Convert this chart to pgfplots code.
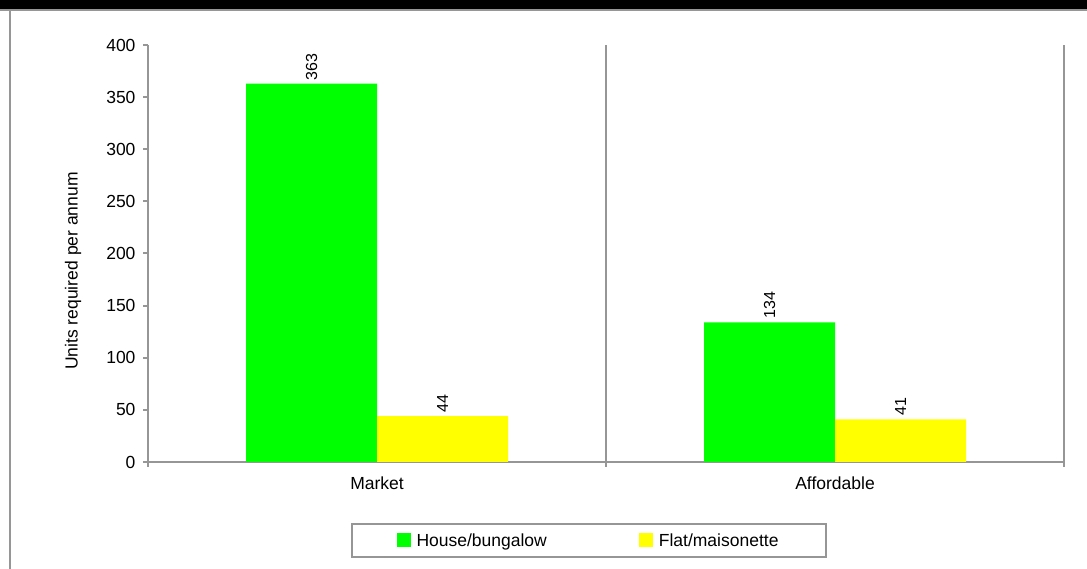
\documentclass[border=0pt]{standalone}
\usepackage{pgfplots}
\pgfplotsset{compat=1.18}
\usepackage{fontspec}
\setmainfont{Liberation Sans}
\definecolor{axgray}{RGB}{150,150,150}
\definecolor{bargreen}{RGB}{0,255,0}
\definecolor{baryellow}{RGB}{255,255,0}
\begin{document}
\begin{tikzpicture}[x=1bp,y=1bp]
\path[use as bounding box] (0,0) rectangle (1087,569);
\fill[black] (0,560) rectangle (1087,569);
\draw[axgray, line width=2.5bp] (0,559) -- (1087,559);
\draw[axgray, line width=2bp] (10,0) -- (10,558);
\begin{axis}[
  at={(148bp,107bp)}, anchor=south west,
  scale only axis, width=916bp, height=417bp,
  xmin=0, xmax=2, ymin=0, ymax=400,
  axis x line*=bottom, axis y line*=left,
  axis line style={-, axgray, line width=2bp},
  every outer x axis line/.append style={-},
  every outer y axis line/.append style={-},
  /pgf/number format/assume math mode=true,
  tick label style={font=\fontsize{17.5bp}{21bp}\selectfont},
  label style={font=\fontsize{17.5bp}{21bp}\selectfont},
  ytick={0,50,...,400},
  yticklabel style={xshift=-4bp},
  tick align=outside, major tick length=5bp,
  tick style={draw=axgray, line width=2bp},
  xtick={0,1,2}, xticklabels={},
  xmajorgrids, major grid style={axgray, line width=2bp},
  extra x ticks={0.5,1.5}, extra x tick labels={Market, Affordable},
  extra x tick style={grid=none, major tick length=0bp,
     xticklabel style={yshift=-11bp}},
  ylabel={Units required per annum},
  ylabel style={at={(axis description cs:-0.0819,0.458)}, anchor=center},
  ybar=0pt, bar width=131bp,
  nodes near coords,
  nodes near coords style={rotate=90, anchor=west, font=\fontsize{16bp}{19bp}\selectfont, black},
  legend columns=2,
  legend cell align=left,
  legend style={at={(0.4809,-0.1882)}, anchor=center, draw=axgray, line width=2bp,
     inner xsep=45bp, inner ysep=7.5bp,
     font=\fontsize{17.5bp}{21bp}\selectfont,
     /tikz/every even column/.append style={column sep=90bp}},
]
\addplot[draw=none, fill=bargreen,
  legend image code/.code={\fill[bargreen] (0bp,-7bp) rectangle (14bp,7bp); \path (18bp,0bp);}]
  coordinates {(0.5,363) (1.5,134)};
\addplot[draw=none, fill=baryellow,
  legend image code/.code={\fill[baryellow] (0bp,-7bp) rectangle (14bp,7bp); \path (18bp,0bp);}]
  coordinates {(0.5,44) (1.5,41)};
\legend{House/bungalow, Flat/maisonette}
\end{axis}
\end{tikzpicture}
\end{document}
